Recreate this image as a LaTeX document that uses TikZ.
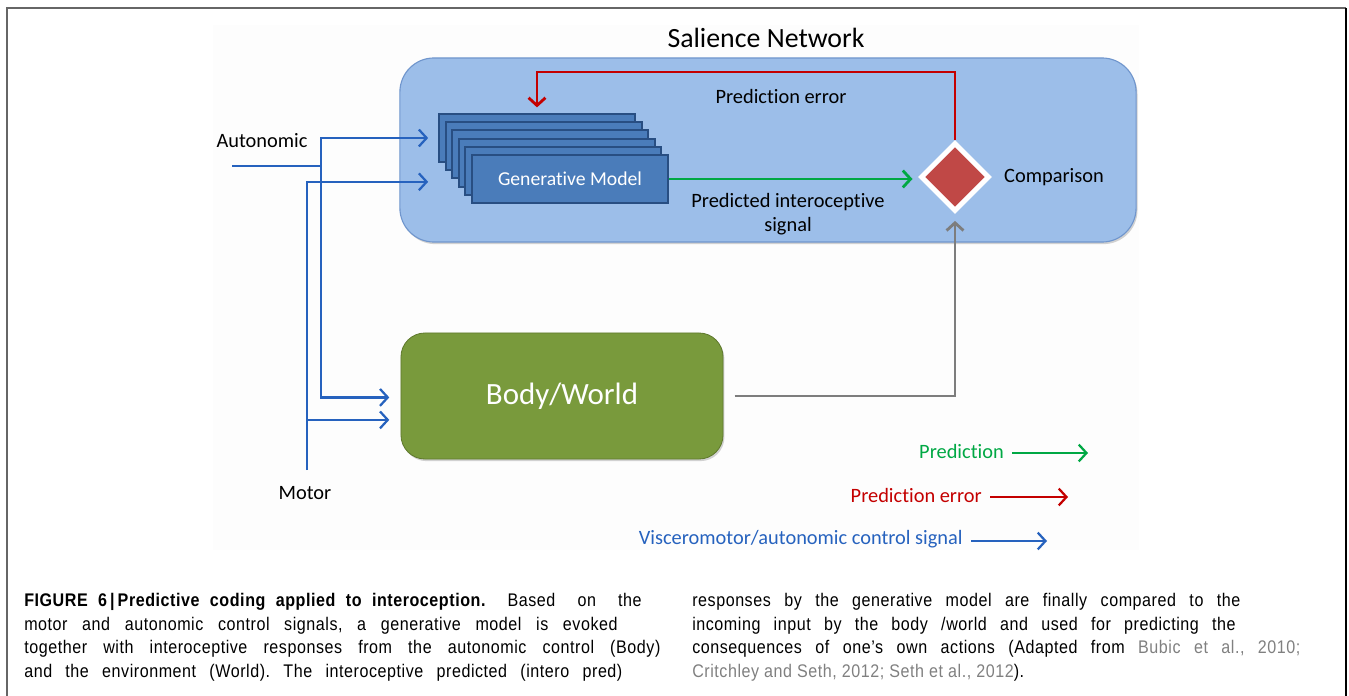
\documentclass[tikz,border=0pt]{standalone}
\usepackage{fontspec}
\setmainfont[Ligatures=NoCommon]{Carlito}
\newfontfamily\capfont[FakeStretch=0.88,LetterSpace=3]{Liberation Sans}
\usepackage{tikz}
\usetikzlibrary{arrows.meta, positioning, shapes.geometric, shadows}
\frenchspacing

\definecolor{snblue}{RGB}{156,190,233}
\definecolor{snedge}{RGB}{112,150,205}
\definecolor{gmblue}{RGB}{74,124,186}
\definecolor{gmedge}{RGB}{40,78,130}
\definecolor{bwgreen}{RGB}{121,154,60}
\definecolor{bwedge}{RGB}{96,122,46}
\definecolor{cmpred}{RGB}{192,72,70}
\definecolor{errred}{RGB}{196,0,0}
\definecolor{predgreen}{RGB}{0,168,68}
\definecolor{ctrlblue}{RGB}{38,98,190}
\definecolor{inputgray}{RGB}{125,125,125}
\definecolor{citegray}{RGB}{128,128,128}

\newcommand\capline[2]{\makebox[#1][s]{#2}}

\tikzset{
>={Straight Barb[length=5.5pt,width=12pt]}, % open arrow heads
label/.style={font=\fontsize{14.5}{17.5}\selectfont, inner sep=0pt},
capt/.style={font=\capfont\fontsize{13}{15}\selectfont, inner sep=0pt, anchor=base west},
snbox/.style={rounded corners=0.85cm, fill=snblue, draw=snedge, line width=0.8pt,
  minimum width=18.4cm, minimum height=4.6cm,
  drop shadow={shadow xshift=1pt, shadow yshift=-1.5pt, opacity=0.35}},
genbox/.style={fill=gmblue, draw=gmedge, line width=1.4pt, minimum width=4.9cm,
  minimum height=1.2cm, font=\fontsize{14}{17}\selectfont, text=white},
cmpbox/.style={diamond, fill=cmpred, draw=white, line width=3.5pt, inner sep=0pt,
  minimum width=1.72cm, minimum height=1.72cm},
bwbox/.style={rounded corners=0.6cm, fill=bwgreen, draw=bwedge, line width=0.6pt,
  minimum width=8.05cm, minimum height=3.15cm, text=white,
  font=\fontsize{22}{26}\selectfont,
  drop shadow={shadow xshift=1pt, shadow yshift=-1.5pt, opacity=0.35}},
errline/.style={draw=errred, line width=2pt},
predline/.style={draw=predgreen, line width=2pt},
inputline/.style={draw=inputgray, line width=2pt},
ctrlline/.style={draw=ctrlblue, line width=1.6pt},
}

\begin{document}
\begin{tikzpicture}[x=0.025cm, y=-0.025cm]
  \useasboundingbox (0,0) rectangle (1349,696);
  % frame and faint panel
  \fill[black!0.6] (213,25) rectangle (1139,550);
  \draw[black!60, line width=1.3pt] (7,696) -- (7,8) -- (1346,8);
  \draw[black, line width=1.3pt] (1346,8) -- (1346,696);

  % salience network
  \node[snbox] (sn) at (768,150) {};
  \node[label, font=\fontsize{19.8}{23}\selectfont] (sntitle) at (766,38) {Salience Network};

  \foreach \i in {5,...,1}
    \node[genbox] (gm\i) at ({570-6.6*\i},{179-8.2*\i}) {};
  \node[genbox] (gm0) at (570,179) {Generative Model};

  \node[cmpbox] (cmp) at (955,177) {};
  \node[label, right=0.3cm of cmp] (cmplabel) {Comparison};

  \node[label] (errlabel) at (781,96) {Prediction error};
  \node[label, align=center] (predlabel) at (788,214) {Predicted interoceptive\\signal};

  % body / world
  \node[bwbox] (body) at (562,396) {Body/World};

  \node[label] (autolabel) at (262,141) {Autonomic};
  \node[label] (motorlabel) at (305,493) {Motor};

  % connectors
  \coordinate (errtop) at (0,72);
  \draw[errline, ->, shorten >=4pt] (cmp.north) -- (cmp.north |- errtop) -| (gm5.north);
  \draw[predline, ->, shorten >=4pt] (gm0.east) -- (gm0.east -| cmp.west);
  \draw[inputline, ->, shorten >=5pt] ([xshift=8pt]body.east) -| (cmp.south);

  \coordinate (abus) at (321,0);
  \coordinate (mbus) at (307,0);
  \coordinate (autoin) at (232,166);
  \coordinate (motorin) at (307,470);
  \coordinate (gmin) at ([xshift=-7pt]gm5.west);
  \coordinate (bodyin) at ([xshift=-8pt,yshift=-1pt]body.west);
  \coordinate (lowin) at ([xshift=-8pt,yshift=-17pt]body.west);

  \draw[ctrlline] (autoin) -- (autoin -| abus);
  \draw[ctrlline, <->] (gmin) -- (abus |- gmin) -- (abus |- bodyin) -- (bodyin);
  \draw[ctrlline, ->] (motorin) |- ([yshift=-2pt]gmin |- gm0.west);
  \draw[ctrlline, ->] (mbus |- lowin) -- (lowin);

  % legend
  \node[label, anchor=east, text=predgreen] (legpred) at (1004,451) {Prediction};
  \node[label, anchor=east, text=errred] (legerr) at (982,495) {Prediction error};
  \node[label, anchor=east, text=ctrlblue] (legctrl) at (963,539) {Visceromotor/autonomic control signal};
  \coordinate (legpredend) at (1088,453);
  \coordinate (legerrend) at (1068,497);
  \coordinate (legctrlend) at (1047,541);
  \draw[predline, line width=1.6pt, ->] ([xshift=6pt]legpred.east |- legpredend) -- (legpredend);
  \draw[errline, line width=1.6pt, ->] ([xshift=6pt]legerr.east |- legerrend) -- (legerrend);
  \draw[ctrlline, ->] ([xshift=6pt]legctrl.east |- legctrlend) -- (legctrlend);

  % caption
  \node[capt] (capl1) at (24,606) {\capline{15.43cm}{\mbox{\bfseries\spaceskip=7.4pt FIGURE 6\,|\,Predictive coding applied to interoception.} Based on the}};
  \node[capt] (capl2) at (24,630) {\capline{14.83cm}{motor and autonomic control signals, a generative model is evoked}};
  \node[capt] (capl3) at (24,653) {\capline{15.9cm}{together with interoceptive responses from the autonomic control (Body)}};
  \node[capt] (capl4) at (24,677) {\capline{14.95cm}{and the environment (World). The interoceptive predicted (intero pred)}};
  \node[capt] (capr1) at (692,606) {\capline{13.7cm}{responses by the generative model are finally compared to the}};
  \node[capt] (capr2) at (692,630) {\capline{13.58cm}{incoming input by the body /world and used for predicting the}};
  \node[capt] (capr3) at (692,653) {\capline{15.2cm}{consequences of one’s own actions (Adapted from \textcolor{citegray}{Bubic et al., 2010;}}};
  \node[capt] (capr4) at (692,677) {\textcolor{citegray}{Critchley and Seth, 2012; Seth et al., 2012}).};
\end{tikzpicture}
\end{document}
